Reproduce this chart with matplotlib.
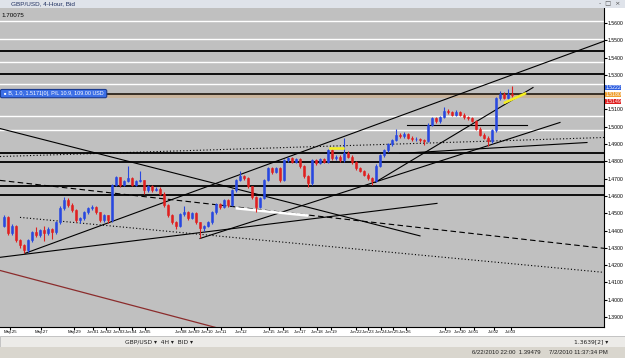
import matplotlib
matplotlib.use('Agg')
import matplotlib.pyplot as plt
from matplotlib.patches import Rectangle

plt.rcParams['font.family'] = ['Liberation Sans Narrow', 'Liberation Sans', 'DejaVu Sans']

# 4-hour GBP/USD candles (bar 0 .. 127), prices
first_open = 1.4429
closes = [1.4476, 1.4383, 1.4424, 1.4343, 1.4314, 1.4285, 1.4343, 1.4389, 1.4372, 1.4401,
          1.4383, 1.4406, 1.4389, 1.4447, 1.4528, 1.4574, 1.4545, 1.4516, 1.4458, 1.4470,
          1.4505, 1.4528, 1.4534, 1.4505, 1.4458, 1.4487, 1.4458, 1.4661, 1.4707, 1.4666,
          1.4684, 1.4701, 1.4666, 1.4684, 1.4690, 1.4632, 1.4655, 1.4632, 1.4643, 1.4614,
          1.4545, 1.4487, 1.4447, 1.4424, 1.4493, 1.4505, 1.4470, 1.4499, 1.4447, 1.4412,
          1.4424, 1.4447, 1.4505, 1.4551, 1.4534, 1.4574, 1.4545, 1.4632, 1.4690, 1.4713,
          1.4701, 1.4655, 1.4591, 1.4534, 1.4586, 1.4690, 1.4759, 1.4736, 1.4759, 1.4690,
          1.4805, 1.4817, 1.4799, 1.4811, 1.4771, 1.4713, 1.4672, 1.4805, 1.4788, 1.4811,
          1.4799, 1.4863, 1.4817, 1.4828, 1.4805, 1.4851, 1.4828, 1.4794, 1.4759, 1.4747,
          1.4724, 1.4701, 1.4684, 1.4776, 1.4834, 1.4863, 1.4898, 1.4921, 1.4955, 1.4944,
          1.4961, 1.4938, 1.4927, 1.4932, 1.4921, 1.4915, 1.5013, 1.5048, 1.5031, 1.5054,
          1.5094, 1.5083, 1.5071, 1.5088, 1.5071, 1.5054, 1.5048, 1.5036, 1.4990, 1.4955,
          1.4938, 1.4915, 1.4979, 1.5164, 1.5187, 1.5169, 1.5192, 1.5181]
highs = [1.4490, 1.4485, 1.4436, 1.4430, 1.4352, 1.4320, 1.4350, 1.4398, 1.4420, 1.4410,
         1.4425, 1.4418, 1.4412, 1.4455, 1.4540, 1.4591, 1.4590, 1.4560, 1.4524, 1.4480,
         1.4512, 1.4536, 1.4545, 1.4540, 1.4510, 1.4495, 1.4492, 1.4670, 1.4718, 1.4712,
         1.4695, 1.4776, 1.4708, 1.4692, 1.4747, 1.4695, 1.4665, 1.4662, 1.4650, 1.4650,
         1.4620, 1.4552, 1.4495, 1.4455, 1.4500, 1.4540, 1.4512, 1.4508, 1.4505, 1.4452,
         1.4432, 1.4455, 1.4512, 1.4560, 1.4558, 1.4582, 1.4580, 1.4640, 1.4698, 1.4747,
         1.4720, 1.4708, 1.4660, 1.4598, 1.4594, 1.4698, 1.4768, 1.4765, 1.4768, 1.4765,
         1.4815, 1.4828, 1.4824, 1.4820, 1.4818, 1.4778, 1.4720, 1.4812, 1.4812, 1.4820,
         1.4818, 1.4872, 1.4870, 1.4836, 1.4834, 1.4938, 1.4860, 1.4835, 1.4800, 1.4765,
         1.4752, 1.4730, 1.4708, 1.4785, 1.4842, 1.4872, 1.4906, 1.4930, 1.4990, 1.4962,
         1.4970, 1.4966, 1.4944, 1.4940, 1.4938, 1.4928, 1.5020, 1.5056, 1.5054, 1.5062,
         1.5117, 1.5100, 1.5090, 1.5096, 1.5094, 1.5078, 1.5060, 1.5054, 1.5042, 1.4996,
         1.4962, 1.4944, 1.4986, 1.5172, 1.5205, 1.5200, 1.5221, 1.5233]
lows = [1.4420, 1.4372, 1.4375, 1.4335, 1.4300, 1.4268, 1.4278, 1.4336, 1.4362, 1.4365,
        1.4340, 1.4376, 1.4350, 1.4380, 1.4440, 1.4520, 1.4538, 1.4508, 1.4450, 1.4445,
        1.4462, 1.4498, 1.4520, 1.4496, 1.4450, 1.4452, 1.4445, 1.4452, 1.4655, 1.4650,
        1.4660, 1.4678, 1.4660, 1.4658, 1.4678, 1.4610, 1.4625, 1.4625, 1.4626, 1.4606,
        1.4538, 1.4480, 1.4440, 1.4406, 1.4418, 1.4486, 1.4462, 1.4464, 1.4440, 1.4354,
        1.4400, 1.4418, 1.4440, 1.4498, 1.4526, 1.4528, 1.4538, 1.4540, 1.4625, 1.4684,
        1.4692, 1.4648, 1.4584, 1.4505, 1.4528, 1.4580, 1.4684, 1.4728, 1.4730, 1.4682,
        1.4684, 1.4798, 1.4792, 1.4792, 1.4764, 1.4706, 1.4649, 1.4665, 1.4780, 1.4782,
        1.4790, 1.4792, 1.4810, 1.4810, 1.4798, 1.4798, 1.4820, 1.4786, 1.4752, 1.4738,
        1.4716, 1.4694, 1.4666, 1.4678, 1.4770, 1.4826, 1.4856, 1.4890, 1.4915, 1.4936,
        1.4938, 1.4930, 1.4920, 1.4920, 1.4912, 1.4892, 1.4910, 1.5006, 1.5022, 1.5024,
        1.5048, 1.5076, 1.5064, 1.5064, 1.5064, 1.5046, 1.5040, 1.5028, 1.4982, 1.4946,
        1.4930, 1.4886, 1.4908, 1.4972, 1.5156, 1.5160, 1.5162, 1.5174]
opens = [first_open] + closes[:-1]

# horizontal levels drawn on the chart
white_levels = [1.5609, 1.5510, 1.5377, 1.5245, 1.5060, 1.4979]
black_levels = [1.5438, 1.5308, 1.4851, 1.4794, 1.4655, 1.4603]
order_price = 1.5192

# trend lines: (bar0, price0, bar1, price1)
solid_lines = [(5.25, 1.4268, 150, 1.5495),
               (-1, 1.4245, 108.25, 1.4557),
               (-1, 1.4990, 104, 1.4369),
               (49, 1.4354, 139, 1.5025),
               (92.75, 1.4678, 132.25, 1.5227),
               (99, 1.4846, 145.75, 1.4909),
               (100.75, 1.5008, 130.75, 1.5008)]
dotted_lines = [(-1, 1.4828, 150, 1.4938),
                (4, 1.4476, 150, 1.4158)]
dashed_lines = [(-1, 1.4690, 150, 1.4297)]
red_line = (-1, 1.4169, 55.75, 1.3822)
white_line = (58.25, 1.4528, 75.75, 1.4487)
yellow_lines = [(125.25, 1.5140, 130.25, 1.5192),
                (81.5, 1.4875, 84.75, 1.4875)]

price_ticks = [1.39 + 0.01 * k for k in range(18)]
date_labels = ['May.25', 'May.27', 'May.29', 'Jun.01', 'Jun.02', 'Jun.03', 'Jun.04',
               'Jun.05', 'Jun.08', 'Jun.09', 'Jun.10', 'Jun.11', 'Jun.12', 'Jun.15',
               'Jun.16', 'Jun.17', 'Jun.18', 'Jun.19', 'Jun.22', 'Jun.23', 'Jun.24',
               'Jun.25', 'Jun.26', 'Jun.29', 'Jun.30', 'Jul.01', 'Jul.02', 'Jul.03']
date_bars = [1.5, 9.25, 17.5, 22.3, 25.5, 28.7, 31.9, 35.2, 44.25, 47.5, 50.75, 54.25,
             59.25, 66.25, 69.75, 74, 78.25, 81.75, 88, 91.1, 94.2, 97.3, 100.4,
             110.25, 114, 117.5, 122.5, 126.75]

fig = plt.figure(figsize=(6.25, 3.58), dpi=100)
fig.patch.set_facecolor('white')
ax = fig.add_axes([0, 31 / 358, 604 / 625, 319 / 358])
ax.set_facecolor('#c0c0c0')
ax.set_xlim(-1, 150)
ax.set_ylim(1.3842, 1.5687)

for p in white_levels:
    ax.axhline(p, color='white', lw=1.0, zorder=1)
for p in black_levels:
    ax.axhline(p, color='black', lw=1.3, zorder=2)
ax.axhspan(1.5164, 1.5189, color='#c9b49c', lw=0, zorder=1)
ax.axhline(order_price, color='#201810', lw=1.2, zorder=2)

for x0, y0, x1, y1 in solid_lines:
    ax.plot([x0, x1], [y0, y1], color='black', lw=0.8, zorder=3)
for x0, y0, x1, y1 in dotted_lines:
    ax.plot([x0, x1], [y0, y1], color='black', lw=0.8, ls=(0, (1, 2)), zorder=3)
for x0, y0, x1, y1 in dashed_lines:
    ax.plot([x0, x1], [y0, y1], color='black', lw=0.8, ls=(0, (5, 3)), zorder=3)
ax.plot(red_line[::2], red_line[1::2], color='#8b2c2c', lw=0.9, zorder=3)
ax.plot(white_line[::2], white_line[1::2], color='white', lw=1.8, zorder=3)
for x0, y0, x1, y1 in yellow_lines:
    ax.plot([x0, x1], [y0, y1], color='#f5f020', lw=1.8, zorder=5)

# candles
for i in range(len(closes)):
    o, c = opens[i], closes[i]
    col = '#2848e0' if c >= o else '#e02020'
    ax.vlines(i, lows[i], highs[i], color=col, lw=0.8, zorder=4)
    ax.bar(i, max(abs(c - o), 0.0004), bottom=min(o, c), width=0.7,
           color=col, edgecolor=col, lw=0.4, zorder=4)

ax.text(-0.5, order_price, ' \u25cf B, 1.0, 1.5171|0|, P/L 10.9, 109.00 USD ',
        fontsize=3.9, color='white', va='center', ha='left', zorder=6,
        bbox=dict(boxstyle='round,pad=0.3', fc='#3c6fe6', ec='#1a3a90', lw=0.8))
ax.text(0.003, 0.985, '1.70075', transform=ax.transAxes, fontsize=4.5,
        va='top', ha='left')

# right price scale (the 1.5200 label sits under the live price tags)
ax.yaxis.tick_right()
ax.set_yticks(price_ticks)
ax.set_yticklabels(['' if abs(v - 1.52) < 1e-6 else '%.4f' % v for v in price_ticks])
ax.tick_params(axis='y', direction='out', length=2, pad=0.5, labelsize=3.7)
ax.set_xticks(date_bars)
ax.set_xticklabels(date_labels)
ax.tick_params(axis='x', direction='out', length=2, pad=0.5, labelsize=3.1)
for s in ['top', 'left']:
    ax.spines[s].set_visible(False)
ax.spines['right'].set_linewidth(0.8)
ax.spines['bottom'].set_linewidth(0.8)

# current price tags on the scale
for p, txt, fc in [(1.5228, '1.5222', '#2f5fe0'), (1.5186, '1.5180', '#f0a030'),
                   (1.5146, '1.5149', '#e02020')]:
    ax.text(1.002, p, txt, transform=ax.get_yaxis_transform(), fontsize=3.7,
            color='white', va='center', ha='left', zorder=7, clip_on=False,
            bbox=dict(boxstyle='square,pad=0.05', fc=fc, ec='none'))

# window chrome: title bar, scroll/toolbar row, status bar
fig.patches.append(Rectangle((0, 1 - 8 / 358), 1, 8 / 358, transform=fig.transFigure,
                             fc='#dfe3ea', ec='none', zorder=0))
fig.text(0.018, 1 - 4 / 358, 'GBP/USD, 4-Hour, Bid', fontsize=4.6, color='#203060',
         va='center', ha='left')
fig.text(0.992, 1 - 4 / 358, '-  \u25a1  \u00d7', fontsize=4.5, color='#505050',
         va='center', ha='right', family='DejaVu Sans')
fig.patches.append(Rectangle((0, 11 / 358), 1, 11 / 358, transform=fig.transFigure,
                             fc='#ecebe8', ec='#b0b0b0', lw=0.5, zorder=0))
fig.patches.append(Rectangle((0, 0), 1, 11 / 358, transform=fig.transFigure,
                             fc='#d9d6ce', ec='none', zorder=0))
fig.text(0.2, 16.5 / 358, 'GBP/USD \u25be  4H \u25be  BID \u25be', fontsize=4.3,
         color='#202020', va='center', ha='left', family='DejaVu Sans')
fig.text(0.918, 16.5 / 358, '1.3639[2] \u25be', fontsize=4.3, color='#202020',
         va='center', ha='left', family='DejaVu Sans')
fig.text(0.755, 5.5 / 358, '6/22/2010 22:00  1.39479', fontsize=4.3, color='#202020',
         va='center', ha='left')
fig.text(0.878, 5.5 / 358, '7/2/2010 11:37:34 PM', fontsize=4.3, color='#202020',
         va='center', ha='left')

fig.savefig('out.png', dpi=100)
